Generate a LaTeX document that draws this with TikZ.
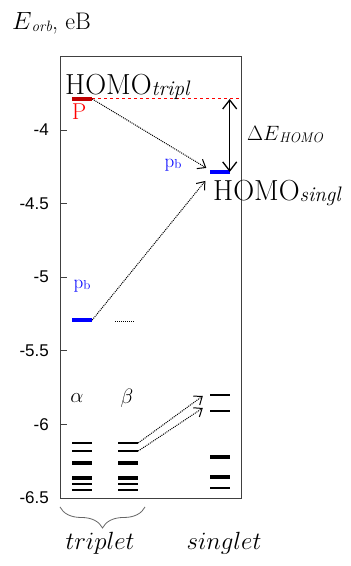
\documentclass[tikz,border=0pt]{standalone}
\usepackage{fontspec}
\newfontfamily\axfont{Liberation Sans}
\usepackage{xcolor}
\usepackage{tikz}
\usetikzlibrary{arrows.meta,decorations.pathreplacing}

\definecolor{homored}{RGB}{192,0,0}
\newcommand{\fs}[1]{\fontsize{#1}{#1}\selectfont}

\begin{document}
\begin{tikzpicture}[
  x=1pt, y=147.2pt,
  >={Straight Barb[length=7pt,width=11pt]},
  frame/.style={black!75, line width=0.8pt},
  ticklab/.style={font={\axfont\fs{17}}, anchor=east, inner sep=0pt},
  lvl/.style={fill=black, inner sep=0pt, minimum width=20pt, minimum height=2.6pt},
  thk/.style={lvl, minimum height=3.4pt},
  blu/.style={lvl, fill=blue, minimum height=3.4pt},
  jump/.style={->, densely dotted, line width=1pt},
  lab/.style={inner sep=0pt}
]
\useasboundingbox (0,-3.117) rectangle (350,-6.962);
% axis box and ticks
\draw[frame] (60,-3.5) rectangle (241,-6.5);
\foreach \e/\n in {-4/a,-4.5/b,-5/c,-5.5/d,-6/e,-6.5/f} {
  \draw[frame] (60,\e) -- (67,\e);
  \node[ticklab] (tick\n) at (49,\e) {\e};
}
\node[lab, anchor=base west, font={\fs{24}}] (eorb) at (12,-3.32)
  {$E$\raisebox{-2pt}{\fs{15}\itshape orb}, eB};
% HOMO levels
\node[lvl, fill=homored, minimum height=3.4pt] (ht) at (82,-3.789) {};
\coordinate (hr) at (241,-3.789);
\draw[red, dashed, line width=1pt] (ht.east) -- (hr);
\node[lab, anchor=base west, font={\fs{29}}] (homot) at (65,-3.762)
  {HOMO\raisebox{-1pt}{\fs{21}\itshape tripl}};
\node[lab, red, font={\fs{23}}] (plab) at (79,-3.878) {P};
\node[blu] (hs) at (219.5,-4.285) {};
\node[lab, blue, font={\fs{19}}] (pbs) at (173,-4.238) {p\raisebox{-1pt}{\fs{13}b}};
\node[lab, anchor=base west, font={\fs{29}}] (homos) at (213,-4.482)
  {HOMO\raisebox{-1pt}{\fs{21}\itshape singl}};
\coordinate (dt) at (hs.east |- ht);
\draw[<->, line width=1.3pt, >={Straight Barb[length=9pt,width=14pt]}] (dt) -- (hs.east);
\node[lab, anchor=west, font={\fs{21}}] (dlab) at (247,-4.034)
  {$\Delta E$\raisebox{-2pt}{\fs{14}\itshape HOMO}};
% p_b of the triplet
\node[blu] (pbt) at (82,-5.291) {};
\node[lab, blue, font={\fs{19}}] (pbl) at (82,-5.06) {p\raisebox{-1pt}{\fs{13}b}};
\coordinate (bd1) at (115,-5.304);
\coordinate (bd2) at (135,-5.304);
\draw[densely dotted, line width=1pt] (bd1) -- (bd2);
% lower levels
\node[lab, font={\fs{22}}] (alab) at (77,-5.82) {$\alpha$};
\node[lab, font={\fs{22}}] (blab) at (127,-5.82) {$\beta$};
\foreach \e/\s [count=\i] in {-6.126/lvl,-6.181/lvl,-6.262/thk,-6.364/thk,-6.405/lvl,-6.446/lvl} {
  \node[\s] (a\i) at (82,\e) {};
  \node[\s] (b\i) at (128,\e) {};
}
\node[lvl] (s1) at (220,-5.800) {};
\node[lvl] (s2) at (220,-5.909) {};
\node[lvl, minimum height=4pt] (s3) at (220,-6.221) {};
\node[lvl, minimum height=4pt] (s4) at (220,-6.357) {};
\node[lvl, minimum height=2pt] (s5) at (220,-6.432) {};
% transitions
\draw[jump] (ht.east) -- ([xshift=-3pt,yshift=4pt]hs.west);
\draw[jump] (pbt.east) -- ([xshift=-4pt,yshift=-9pt]hs.west);
\draw[jump] (b1.east) -- ([xshift=-7pt,yshift=-1pt]s1.west);
\draw[jump] (b2.east) -- ([xshift=-7pt,yshift=3pt]s2.west);
% spin labels
\coordinate (brl) at (60,-6.561);
\coordinate (brr) at (145,-6.561);
\draw[decorate, decoration={brace, mirror, amplitude=21pt}, black!60, line width=0.8pt] (brl) -- (brr);
\node[lab, anchor=base, font={\fs{30}}] (trip) at (100,-6.853) {$triplet$};
\node[lab, anchor=base, font={\fs{30}}] (sing) at (224,-6.853) {$singlet$};
\end{tikzpicture}
\end{document}
